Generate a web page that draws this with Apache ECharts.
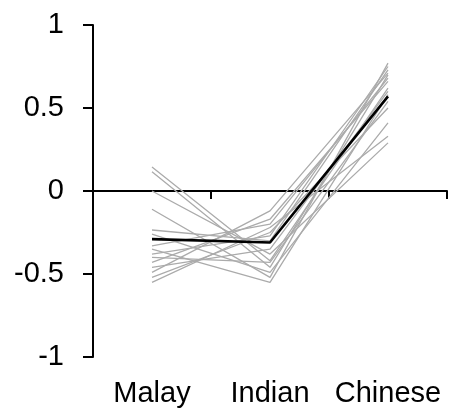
<!DOCTYPE html>
<html>
<head>
<meta charset="utf-8">
<script src="https://cdn.jsdelivr.net/npm/echarts@6/dist/echarts.min.js"></script>
<style>html,body{margin:0;padding:0;background:#fff;}#c{width:449px;height:415px;}</style>
</head>
<body>
<div id="c"></div>
<script>
var categories = ['Malay', 'Indian', 'Chinese'];
var yTicks = [-1, -0.5, 0, 0.5, 1];
// individual (gray) lines: [Malay, Indian, Chinese]
var line01 = [0.145, -0.42, 0.62];
var line02 = [0.116, -0.46, 0.70];
var line03 = [0.00, -0.38, 0.29];
var line04 = [-0.11, -0.52, 0.77];
var line05 = [-0.235, -0.30, 0.73];
var line06 = [-0.26, -0.49, 0.41];
var line07 = [-0.33, -0.20, 0.68];
var line08 = [-0.35, -0.55, 0.58];
var line09 = [-0.38, -0.27, 0.75];
var line10 = [-0.40, -0.43, 0.54];
var line11 = [-0.43, -0.17, 0.66];
var line12 = [-0.46, -0.35, 0.60];
var line13 = [-0.49, -0.12, 0.71];
var line14 = [-0.52, -0.25, 0.50];
var line15 = [-0.55, -0.22, 0.33];
var meanLine = [-0.29, -0.31, 0.57];
var grayLines = [line01, line02, line03, line04, line05, line06, line07, line08, line09, line10, line11, line12, line13, line14, line15];

var series = grayLines.map(function (d) {
  return { type: 'line', data: d, xAxisIndex: 0, symbol: 'none', silent: true,
    lineStyle: { color: '#ababab', width: 1.3 }, z: 2 };
});
series.push({ type: 'line', data: meanLine, xAxisIndex: 0, symbol: 'none',
  lineStyle: { color: '#000', width: 2.6 }, z: 5 });

var font = 'Liberation Sans, Arial, sans-serif';
var chart = echarts.init(document.getElementById('c'), null, { renderer: 'canvas' });
chart.setOption({
  animation: false,
  backgroundColor: '#fff',
  grid: { left: 93, right: 2, top: 25, bottom: 58, containLabel: false },
  xAxis: [
    { type: 'category', data: categories, boundaryGap: true,
      axisLine: { onZero: true, lineStyle: { color: '#000', width: 2 } },
      axisTick: { show: true, inside: false, length: 8, alignWithLabel: false, lineStyle: { color: '#000', width: 2 } },
      axisLabel: { show: false }, splitLine: { show: false } },
    { type: 'category', data: categories, boundaryGap: true, position: 'bottom',
      axisLine: { show: false, onZero: false }, axisTick: { show: false },
      axisLabel: { show: true, interval: 0, hideOverlap: false, color: '#000', fontSize: 29, fontFamily: font, margin: 22 },
      splitLine: { show: false } }
  ],
  yAxis: {
    type: 'value', min: yTicks[0], max: yTicks[yTicks.length - 1], interval: 0.5,
    axisLine: { show: true, onZero: false, lineStyle: { color: '#000', width: 2 } },
    axisTick: { show: true, inside: false, length: 10, lineStyle: { color: '#000', width: 2 } },
    axisLabel: { color: '#000', fontSize: 29, fontFamily: font, margin: 29 },
    splitLine: { show: false }
  },
  series: series
});
</script>
</body>
</html>
